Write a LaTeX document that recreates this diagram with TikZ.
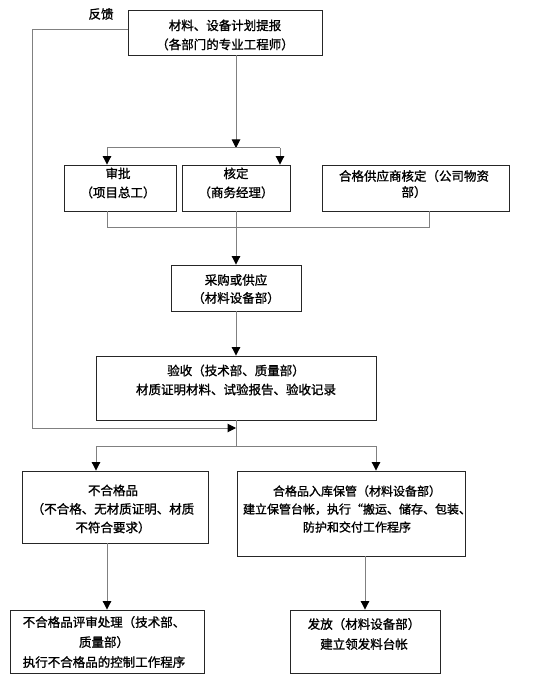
\documentclass[tikz,border=0pt]{standalone}
\usepackage{fontspec}
\setmainfont{Noto Sans CJK SC}[FakeBold=1.2]
\usetikzlibrary{arrows.meta}
\begin{document}
\begin{tikzpicture}[x=1pt,y=-1pt,
  box/.style={draw=black!85, line width=0.9pt, inner sep=0pt},
  txt/.style={align=center, font=\fontsize{12.5}{19}\selectfont, inner sep=0pt},
  conn/.style={draw=black!50, line width=1pt},
  arr/.style={conn, -{Triangle[length=8.5pt,width=8.5pt,color=black]}}
]
\useasboundingbox (0,0) rectangle (553,684);

% boxes
\node[box, minimum width=194pt, minimum height=45pt] (b1) at (225,32.5) {};
\node[box, minimum width=112pt, minimum height=46pt] (b2) at (120,188) {};
\node[box, minimum width=108pt, minimum height=46pt] (b3) at (236,188) {};
\node[box, minimum width=187pt, minimum height=46pt] (b4) at (415.5,188) {};
\node[box, minimum width=130pt, minimum height=46pt] (b5) at (236,288) {};
\node[box, minimum width=280pt, minimum height=64pt] (b6) at (236,388) {};
\node[box, minimum width=186pt, minimum height=72pt] (b7) at (115,507) {};
\node[box, minimum width=228pt, minimum height=85pt] (b8) at (351,513.5) {};
\node[box, minimum width=194pt, minimum height=63pt] (b9) at (107,641.5) {};
\node[box, minimum width=150pt, minimum height=63pt] (b10) at (365,641.5) {};

% texts
\node[txt] (t0) at (101,14) {反馈};
\node[txt] (t1) at (225,35) {材料、设备计划提报\\（各部门的专业工程师）};
\node[txt] (t2) at (118,183) {审批\\（项目总工）};
\node[txt] (t3) at (236,183) {核定\\（商务经理）};
\node[txt, font=\fontsize{12.5}{16}\selectfont] (t4) at (414,184) {合格供应商核定（公司物资\\部）};
\node[txt, font=\fontsize{12.5}{18}\selectfont] (t5) at (236,289) {采购或供应\\（材料设备部）};
\node[txt] (t6) at (236,380) {验收（技术部、质量部）\\材质证明材料、试验报告、验收记录};
\node[txt, font=\fontsize{12.5}{18.5}\selectfont] (t7) at (113,509) {不合格品\\（不合格、无材质证明、材质\\不符合要求）};
\node[txt, font=\fontsize{12}{18}\selectfont] (t8) at (357,509) {合格品入库保管（材料设备部）\\建立保管台帐，执行“搬运、储存、包装、\\防护和交付工作程序};
\node[txt, font=\fontsize{12.5}{20}\selectfont] (t9) at (104,642) {不合格品评审处理（技术部、\\质量部）\\执行不合格品的控制工作程序};
\node[txt, font=\fontsize{12.5}{20}\selectfont] (t10) at (364,634) {发放（材料设备部）\\建立领发料台帐};

% junction coordinates
\coordinate (split1) at (236,148);
\coordinate (split1L) at (107,148);
\coordinate (split1R) at (280,148);
\coordinate (join1) at (107,228);
\coordinate (join2) at (429,228);
\coordinate (fbcorner) at (32,428);
\coordinate (fbend) at (236,428);
\coordinate (split2) at (236,446);
\coordinate (split2L) at (96,446);
\coordinate (split2R) at (376,446);

% connectors
\draw[arr] ([yshift=2.5pt]b1.west) -| (fbcorner) -- (fbend);
\draw[arr] (b1.south -| split1) -- (split1);
\draw[conn] (split1L) -- (split1R);
\draw[arr] (split1L) -- (b2.north -| split1L);
\draw[arr] (split1R) -- (b3.north -| split1R);
\draw[conn] (b2.south -| join1) -- (join1) -- (join2) -- (b4.south -| join2);
\draw[arr] (b3.south) -- (b5.north);
\draw[arr] (b5.south) -- (b6.north);
\draw[conn] (b6.south) -- (split2);
\draw[conn] (split2L) -- (split2R);
\draw[arr] (split2L) -- (b7.north -| split2L);
\draw[arr] (split2R) -- (b8.north -| split2R);
\draw[arr] (b9.north |- b7.south) -- (b9.north);
\draw[arr] (b10.north |- b8.south) -- (b10.north);
\end{tikzpicture}
\end{document}
